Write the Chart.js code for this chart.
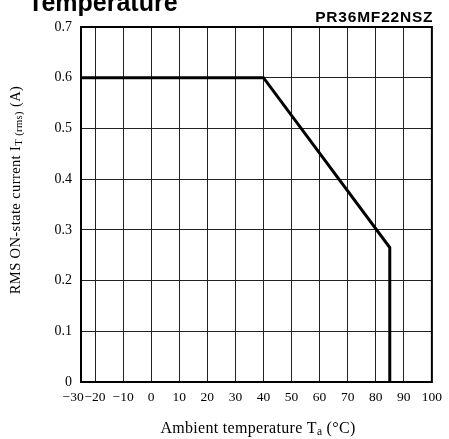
<!DOCTYPE html>
<html>
<head>
<meta charset="utf-8">
<script src="https://cdn.jsdelivr.net/npm/chart.js@4"></script>
<style>
  body { margin: 0; background: #fff; }
  #chart { display: block; }
</style>
</head>
<body>
<canvas id="chart" width="449" height="439"></canvas>
<script>
// derating curve
const ambientTemp = [-25, 40, 85, 85];
const rmsCurrent = [0.6, 0.6, 0.265, 0];

const xTicks = [-30, -20, -10, 0, 10, 20, 30, 40, 50, 60, 70, 80, 90, 100];
const yTicks = [0, 0.1, 0.2, 0.3, 0.4, 0.5, 0.6, 0.7];

const serif = '"Liberation Serif", "Times New Roman", serif';
const sans = '"Liberation Sans", Arial, sans-serif';

// the axis really starts at -25, the "-30" label just sits left of the frame
const X_MIN = -25;
const FIRST_LABEL_AT = -27.8;

// draw a line of text made of pieces (for subscripts), centred on cx
function drawRuns(ctx, runs, cx, y) {
  let total = 0;
  runs.forEach((r) => {
    ctx.font = r.font;
    total += ctx.measureText(r.text).width;
  });
  let x = cx - total / 2;
  runs.forEach((r) => {
    ctx.font = r.font;
    ctx.fillText(r.text, x, y + (r.dy || 0));
    x += ctx.measureText(r.text).width;
  });
}

const frameAndText = {
  id: "frameAndText",
  afterDraw(chart) {
    const { ctx, chartArea: a } = chart;
    ctx.save();
    ctx.strokeStyle = "#000";
    ctx.lineWidth = 2;
    ctx.strokeRect(a.left, a.top, a.right - a.left, a.bottom - a.top);

    ctx.fillStyle = "#000";
    ctx.textBaseline = "alphabetic";

    // figure title, cut off by the top of the page
    ctx.textAlign = "left";
    ctx.font = "bold 25px " + sans;
    ctx.fillText("Temperature", 28, 11);

    ctx.textAlign = "right";
    ctx.letterSpacing = "0.8px";
    ctx.font = "bold 15.5px " + sans;
    ctx.fillText("PR36MF22NSZ", a.right + 1.5, 22);

    ctx.textAlign = "left";
    ctx.letterSpacing = "0.3px";
    drawRuns(
      ctx,
      [
        { text: "Ambient temperature T", font: "16px " + serif },
        { text: "a", font: "11.5px " + serif, dy: 2 },
        { text: " (\u00b0C)", font: "16px " + serif },
      ],
      258,
      433
    );

    ctx.letterSpacing = "0.4px";
    ctx.translate(20, 190);
    ctx.rotate(-Math.PI / 2);
    drawRuns(
      ctx,
      [
        { text: "RMS ON-state current I", font: "14.5px " + serif },
        { text: "T (rms)", font: "10.5px " + serif, dy: 2 },
        { text: " (A)", font: "14.5px " + serif },
      ],
      0,
      0
    );
    ctx.restore();
  },
};

new Chart(document.getElementById("chart"), {
  type: "line",
  data: {
    datasets: [
      {
        data: ambientTemp.map((t, i) => ({ x: t, y: rmsCurrent[i] })),
        borderColor: "#000",
        borderWidth: 3,
        pointRadius: 0,
        tension: 0,
        fill: false,
      },
    ],
  },
  options: {
    responsive: false,
    animation: false,
    layout: { padding: { left: 0, top: 27, right: 12, bottom: 0 } },
    plugins: {
      legend: { display: false },
      tooltip: { enabled: false },
    },
    scales: {
      x: {
        type: "linear",
        min: X_MIN,
        max: 100,
        afterBuildTicks: (s) => {
          s.ticks = xTicks.map((v) => ({ value: v < X_MIN ? FIRST_LABEL_AT : v }));
        },
        afterFit: (s) => {
          s.height = 57;
        },
        grid: {
          color: (c) => (c.tick && c.tick.value < X_MIN ? "rgba(0,0,0,0)" : "#222"),
          lineWidth: 1,
          drawTicks: false,
        },
        border: { display: false },
        ticks: {
          autoSkip: false,
          maxRotation: 0,
          padding: 7,
          color: "#000",
          font: { family: serif, size: 13.5 },
          callback: (v, i) => (xTicks[i] < 0 ? "\u2212" + Math.abs(xTicks[i]) : String(xTicks[i])),
        },
      },
      y: {
        min: 0,
        max: 0.7,
        afterBuildTicks: (s) => {
          s.ticks = yTicks.map((v) => ({ value: v }));
        },
        afterFit: (s) => {
          s.width = 81;
        },
        grid: { color: "#222", lineWidth: 1, drawTicks: false },
        border: { display: false },
        ticks: {
          autoSkip: false,
          padding: 9,
          color: "#000",
          font: { family: serif, size: 14 },
          callback: (v) => (v === 0 ? "0" : v.toFixed(1)),
        },
      },
    },
  },
  plugins: [frameAndText],
});
</script>
</body>
</html>
